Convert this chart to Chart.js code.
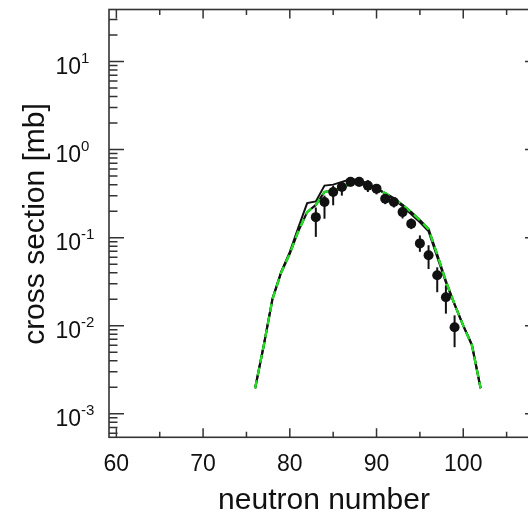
<!DOCTYPE html>
<html>
<head>
<meta charset="utf-8">
<script src="https://cdn.jsdelivr.net/npm/chart.js@4/dist/chart.umd.min.js"></script>
<style>
  body { margin: 0; background: #fff; overflow: hidden; }
  canvas { display: block; }
</style>
</head>
<body>
<canvas id="grafico" width="560" height="514"></canvas>
<script>
// modelos: numero de neutrones y seccion eficaz (mb)
const nModelo = [76, 77, 78, 79, 80, 81, 82, 83, 84, 85, 86, 87, 88, 89, 90, 91, 92, 93, 94, 95, 96, 97, 98, 99, 100, 101, 102];
const modeloNegro = [0.00195, 0.0060, 0.0204, 0.041, 0.069, 0.132, 0.247, 0.258, 0.39, 0.40, 0.43, 0.46, 0.448, 0.414, 0.363, 0.319, 0.272, 0.227, 0.184, 0.149, 0.118, 0.060, 0.031, 0.0175, 0.0100, 0.0061, 0.00195];
const modeloVerde = [0.00195, 0.0060, 0.0200, 0.040, 0.066, 0.120, 0.195, 0.235, 0.33, 0.345, 0.36, 0.41, 0.42, 0.40, 0.36, 0.32, 0.28, 0.235, 0.195, 0.158, 0.125, 0.064, 0.032, 0.0175, 0.0100, 0.0060, 0.00195];

// datos experimentales con barras de error
const nExp = [83, 84, 85, 86, 87, 88, 89, 90, 91, 92, 93, 94, 95, 96, 97, 98, 99];
const sigmaExp = [0.171, 0.254, 0.33, 0.376, 0.43, 0.43, 0.39, 0.36, 0.277, 0.254, 0.195, 0.144, 0.086, 0.063, 0.0374, 0.021, 0.0096];
const sigmaMin = [0.102, 0.164, 0.233, 0.30, 0.38, 0.38, 0.33, 0.31, 0.24, 0.22, 0.165, 0.125, 0.069, 0.044, 0.024, 0.0137, 0.0057];
const sigmaMax = [0.22, 0.30, 0.39, 0.43, 0.47, 0.47, 0.45, 0.40, 0.31, 0.28, 0.22, 0.165, 0.106, 0.082, 0.046, 0.0287, 0.0131];

// ejes
const ticksX = [60, 70, 80, 90, 100];
const exponentesY = [-3, -2, -1, 0, 1];
const tituloX = "neutron number";
const tituloY = "cross section [mb]";

const fuente = "Liberation Sans, Arial, sans-serif";

function puntos(xs, ys) {
  return xs.map((x, i) => ({ x: x, y: ys[i] }));
}

const marco = {
  id: "marco",
  beforeDatasetsDraw(chart) {
    const ctx = chart.ctx;
    const sx = chart.scales.x;
    const sy = chart.scales.y;
    // barras de error
    ctx.save();
    ctx.strokeStyle = "#111";
    ctx.lineWidth = 2;
    nExp.forEach((n, i) => {
      const px = sx.getPixelForValue(n);
      ctx.beginPath();
      ctx.moveTo(px, sy.getPixelForValue(sigmaMin[i]));
      ctx.lineTo(px, sy.getPixelForValue(sigmaMax[i]));
      ctx.stroke();
    });
    ctx.restore();
  },
  afterDraw(chart) {
    const ctx = chart.ctx;
    const a = chart.chartArea;
    const sx = chart.scales.x;
    const sy = chart.scales.y;
    ctx.save();
    ctx.strokeStyle = "#333";
    ctx.lineWidth = 1.6;
    ctx.strokeRect(a.left, a.top, a.right - a.left, a.bottom - a.top);

    // marcas del eje x (hacia adentro, abajo y arriba)
    ctx.lineWidth = 1.5;
    for (let v = 60; v <= sx.max; v += 5) {
      const px = sx.getPixelForValue(v);
      const largo = v % 10 === 0 ? 9 : 5.5;
      ctx.beginPath();
      ctx.moveTo(px, a.bottom);
      ctx.lineTo(px, a.bottom - largo);
      ctx.moveTo(px, a.top);
      ctx.lineTo(px, a.top + largo);
      ctx.stroke();
    }

    // marcas del eje y logaritmico
    for (let e = -4; e <= 1; e++) {
      for (let m = 1; m <= 9; m++) {
        const v = m * Math.pow(10, e);
        if (v < sy.min || v > sy.max) continue;
        const py = sy.getPixelForValue(v);
        const largo = m === 1 ? 15 : 8.5;
        ctx.beginPath();
        ctx.moveTo(a.left, py);
        ctx.lineTo(a.left + largo, py);
        ctx.moveTo(a.right, py);
        ctx.lineTo(a.right - largo, py);
        ctx.stroke();
      }
    }

    // etiquetas
    ctx.fillStyle = "#111";
    ctx.font = "23px " + fuente;
    ctx.textAlign = "center";
    ctx.textBaseline = "alphabetic";
    ticksX.forEach((v) => {
      ctx.fillText(String(v), sx.getPixelForValue(v), 471);
    });

    exponentesY.forEach((e) => {
      const py = sy.getPixelForValue(Math.pow(10, e));
      ctx.font = "23px " + fuente;
      ctx.textAlign = "right";
      ctx.fillText("10", 81, py + 12);
      ctx.font = "15px " + fuente;
      ctx.textAlign = "left";
      ctx.fillText(String(e), 81, py + 1);
    });

    ctx.font = "30px " + fuente;
    ctx.textAlign = "center";
    ctx.fillText(tituloX, 324, 509);

    ctx.translate(44, 224);
    ctx.rotate(-Math.PI / 2);
    ctx.fillText(tituloY, 0, 0);
    ctx.restore();
  }
};

const grafico = new Chart(document.querySelector("#grafico"), {
  type: "line",
  data: {
    datasets: [
      {
        data: puntos(nModelo, modeloNegro),
        borderColor: "#111",
        borderWidth: 2,
        pointRadius: 0,
        order: 4
      },
      {
        data: puntos(nModelo, modeloVerde),
        borderColor: "#111",
        borderWidth: 2.2,
        pointRadius: 0,
        order: 3
      },
      {
        data: puntos(nModelo, modeloVerde),
        borderColor: "#22dd22",
        borderWidth: 2.4,
        borderDash: [8, 5],
        pointRadius: 0,
        order: 2
      },
      {
        data: puntos(nExp, sigmaExp),
        showLine: false,
        pointRadius: 5,
        pointBackgroundColor: "#111",
        pointBorderColor: "#111",
        pointBorderWidth: 0,
        order: 1
      }
    ]
  },
  options: {
    responsive: false,
    animation: false,
    devicePixelRatio: 1,
    layout: { padding: { top: 9.5, right: 20, left: 0, bottom: 0 } },
    plugins: { legend: { display: false }, tooltip: { enabled: false } },
    scales: {
      x: {
        type: "linear",
        min: 59.15,
        max: 108.85,
        grid: { display: false },
        border: { display: false },
        ticks: { display: false },
        afterFit(scale) { scale.height = 76.7; }
      },
      y: {
        type: "logarithmic",
        min: 5.4e-4,
        max: 39,
        grid: { display: false },
        border: { display: false },
        ticks: { display: false },
        afterFit(scale) { scale.width = 109; }
      }
    }
  },
  plugins: [marco]
});
</script>
</body>
</html>
